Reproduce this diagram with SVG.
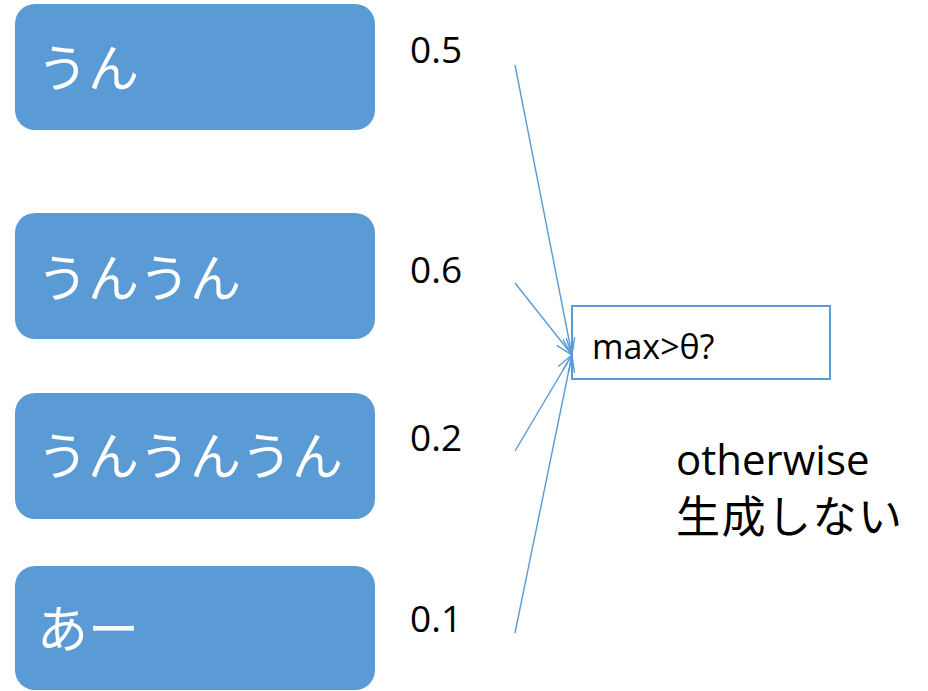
<svg xmlns="http://www.w3.org/2000/svg" width="928" height="691" viewBox="0 0 928 691">
  <style>
    .node rect.fill { fill: #5B9BD5; }
    .jp { font-family: "Noto Sans CJK JP", "Noto Sans", sans-serif; fill: #ffffff; font-size: 51px; }
    .num { font-family: "Open Sans", "Liberation Sans", sans-serif; fill: #000000; font-size: 37px; }
    .lbl { font-family: "Open Sans", "Liberation Sans", sans-serif; fill: #000000; }
    .edge { stroke: #5B9BD5; stroke-width: 1.4; fill: none; marker-end: url(#open-arrow); }
  </style>
  <defs>
    <marker id="open-arrow" markerUnits="userSpaceOnUse" markerWidth="40" markerHeight="40" refX="20" refY="20" orient="auto" viewBox="0 0 40 40">
      <path d="M 3 14 L 20 20 L 3 26" fill="none" stroke="#5B9BD5" stroke-width="1.4"/>
    </marker>
  </defs>
  <rect width="928" height="691" fill="#ffffff"/>

  <!-- candidate nodes -->
  <g id="node-un" class="node">
    <rect class="fill" x="15" y="4" width="360" height="126" rx="20" ry="20"/>
    <text class="jp" x="37" y="87">うん</text>
  </g>
  <g id="node-unun" class="node">
    <rect class="fill" x="15" y="213" width="360" height="126" rx="20" ry="20"/>
    <text class="jp" x="37" y="297">うんうん</text>
  </g>
  <g id="node-ununun" class="node">
    <rect class="fill" x="15" y="393" width="360" height="126" rx="20" ry="20"/>
    <text class="jp" x="37" y="475">うんうんうん</text>
  </g>
  <g id="node-aa" class="node">
    <rect class="fill" x="15" y="566" width="360" height="124" rx="20" ry="20"/>
    <text class="jp" x="37" y="648">あー</text>
  </g>

  <!-- scores -->
  <g id="scores">
    <text class="num" x="410" y="63">0.5</text>
    <text class="num" x="410" y="283">0.6</text>
    <text class="num" x="410" y="451">0.2</text>
    <text class="num" x="410" y="632">0.1</text>
  </g>

  <!-- threshold check -->
  <g id="node-check">
    <rect x="572" y="306" width="258" height="73" fill="#ffffff" stroke="#5B9BD5" stroke-width="2"/>
    <text class="lbl" x="592" y="359" font-size="34">max&gt;θ?</text>
  </g>

  <g id="node-otherwise">
    <text class="lbl" x="676" y="475" font-size="42">otherwise</text>
    <text x="676" y="533" font-family="Noto Sans CJK JP, sans-serif" font-size="44" letter-spacing="1.5" fill="#000000">生成しない</text>
  </g>

  <!-- connectors -->
  <g id="connectors">
    <line class="edge" x1="515" y1="65" x2="572" y2="355"/>
    <line class="edge" x1="515" y1="283" x2="572" y2="355"/>
    <line class="edge" x1="515" y1="451" x2="572" y2="355"/>
    <line class="edge" x1="515" y1="633" x2="572" y2="355"/>
  </g>
</svg>
